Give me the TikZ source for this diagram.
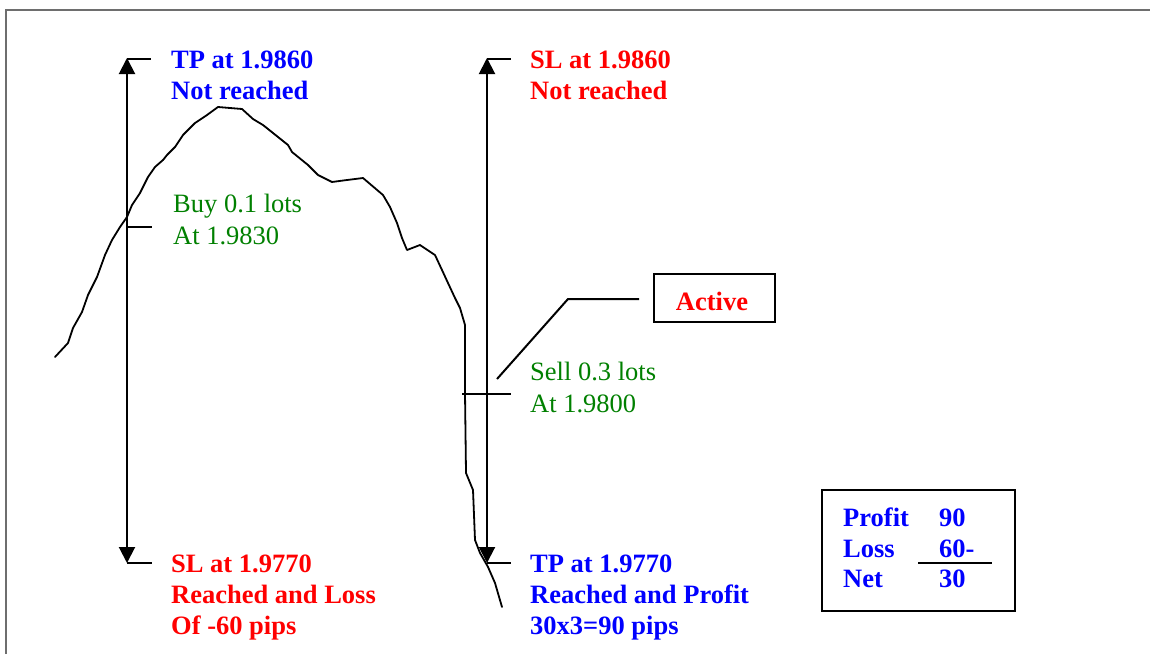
\documentclass[tikz,border=0pt]{standalone}
\usepackage{fontspec}
\setmainfont{Liberation Serif}
\usetikzlibrary{arrows.meta}
\definecolor{tblue}{RGB}{0,0,255}
\definecolor{tred}{RGB}{255,0,0}
\definecolor{tgreen}{RGB}{0,128,0}
\definecolor{framegray}{RGB}{110,110,110}
\begin{document}
\begin{tikzpicture}[x=1pt,y=-1pt,
  lbl/.style={anchor=base west,inner sep=0pt,font=\fontsize{26.5}{31}\selectfont},
  bl/.style={lbl,font=\fontsize{26.5}{31}\selectfont\bfseries,text=tblue},
  rd/.style={lbl,font=\fontsize{26.5}{31}\selectfont\bfseries,text=tred},
  gr/.style={lbl,text=tgreen},
  thin/.style={line width=2pt,black},
  curve/.style={line width=1.8pt,black,line join=round,line cap=round},
  dbl/.style={thin,{Triangle[length=16pt,width=16pt]}-{Triangle[length=16pt,width=16pt]}}
]
\useasboundingbox (0,0) rectangle (1150,654);
\fill[white] (0,0) rectangle (1150,654);
\draw[framegray,line width=2pt] (6,654) -- (6,10) -- (1150,10);

% price curve
\draw[curve]
 (55,357) -- (68,343) -- (73,328) -- (82,312) -- (88,295) -- (97,277) -- (105,255)
 -- (112,240) -- (120,227) -- (127,217) -- (132,205) -- (140,193) -- (148,177)
 -- (155,167) -- (163,160) -- (167,155) -- (175,147) -- (183,135) -- (195,123)
 -- (207,115) -- (218,107) -- (242,109) -- (253,119) -- (263,125) -- (278,137)
 -- (288,145) -- (292,152) -- (308,165) -- (318,175) -- (332,182) -- (347,180)
 -- (363,178) -- (383,195) -- (390,207) -- (397,223) -- (402,238) -- (407,250)
 -- (420,245) -- (435,255) -- (442,270) -- (448,283) -- (455,298) -- (460,308)
 -- (465,325) -- (465,393) -- (466,473) -- (473,490) -- (475,540) -- (480,553)
 -- (488,567) -- (495,583) -- (502,607);

% left arrow
\coordinate (lTop) at (127,58);
\coordinate (lBot) at (127,563);
\coordinate (lTopT) at (151,59);
\coordinate (lBotT) at (152,563);
\coordinate (lTopS) at (127,59);
\coordinate (lBuy) at (127,227);
\coordinate (lBuyT) at (152,227);
\draw[dbl] (lBot) -- (lTop);
\draw[thin] (lTopS) -- (lTopT);
\draw[thin] (lBot) -- (lBotT);
\draw[thin] (lBuy) -- (lBuyT);

% right arrow
\coordinate (rTop) at (487,58);
\coordinate (rBot) at (487,563);
\coordinate (rTopS) at (487,59);
\coordinate (rTopT) at (511,59);
\coordinate (rBotT) at (511,563);
\coordinate (rSellL) at (462,394);
\coordinate (rSellR) at (511,394);
\draw[dbl] (rBot) -- (rTop);
\draw[thin] (rTopS) -- (rTopT);
\draw[thin] (rBot) -- (rBotT);
\draw[thin] (rSellL) -- (rSellR);

% labels left
\node[bl] (tp1) at (171,68) {TP at 1.9860};
\node[bl] (tp2) at (171,99) {Not reached};
\node[gr] (buy1) at (173,212) {Buy 0.1 lots};
\node[gr] (buy2) at (173,244) {At 1.9830};
\node[rd] (sl1) at (171,572) {SL at 1.9770};
\node[rd] (sl2) at (171,603) {Reached and Loss};
\node[rd] (sl3) at (171,634) {Of -60 pips};

% labels right
\node[rd] (rsl1) at (530,68) {SL at 1.9860};
\node[rd] (rsl2) at (530,99) {Not reached};
\node[gr] (sell1) at (530,380) {Sell 0.3 lots};
\node[gr] (sell2) at (530,412) {At 1.9800};
\node[bl] (rtp1) at (530,572) {TP at 1.9770};
\node[bl] (rtp2) at (530,603) {Reached and Profit};
\node[bl] (rtp3) at (530,634) {30x3=90 pips};

% active box
\node[draw,thin,minimum width=121pt,minimum height=48pt,inner sep=0pt] (active) at (714.5,298) {};
\node[rd,anchor=base] (activeT) at (712,310) {Active};
\coordinate (aA) at (497,379);
\coordinate (aB) at (568,299);
\coordinate (aC) at (639,299);
\draw[thin] (aA) -- (aB) -- (aC);

% result box
\node[draw,thin,minimum width=193pt,minimum height=121pt,inner sep=0pt] (res) at (918.5,550.5) {};
\node[bl] (p1) at (843,526) {Profit};
\node[bl] (p2) at (939,526) {90};
\node[bl] (l1) at (843,557) {Loss};
\node[bl] (l2) at (939,557) {60-};
\node[bl] (n1) at (843,587) {Net};
\node[bl] (n2) at (939,587) {30};
\coordinate (rlA) at (918,563);
\coordinate (rlB) at (992,563);
\draw[thin] (rlA) -- (rlB);
\end{tikzpicture}
\end{document}
